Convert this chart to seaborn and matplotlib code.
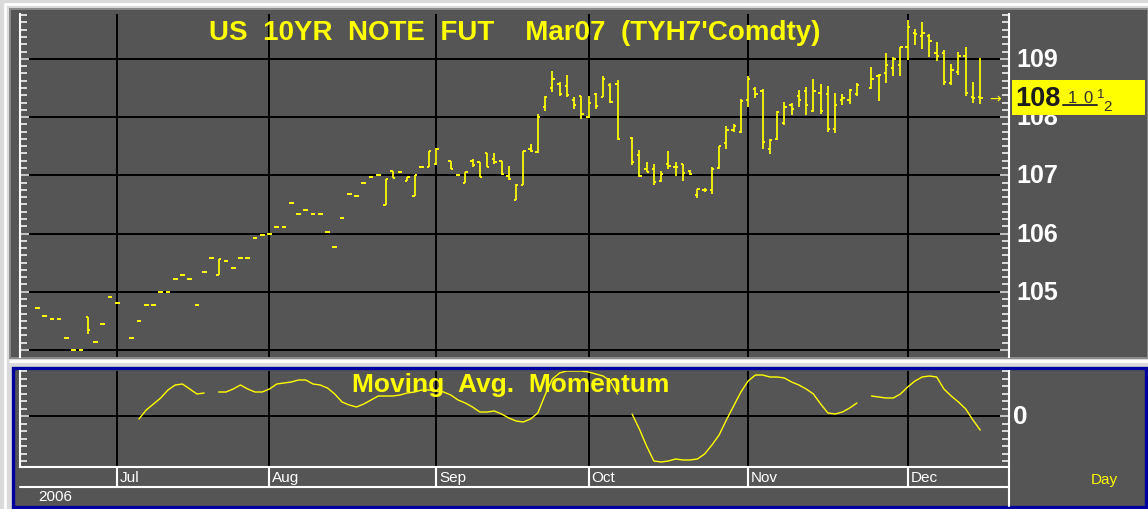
import numpy as np
import pandas as pd
import matplotlib
matplotlib.use("Agg")
import matplotlib.pyplot as plt
from matplotlib.patches import Rectangle
from matplotlib.ticker import MultipleLocator, FixedLocator
import seaborn as sns

sns.set_style("dark")
plt.rcParams["font.family"] = ["Liberation Sans", "DejaVu Sans"]

# ---------------------------------------------------------------- data
calendar_start = "2006-06-14"   # first weekday slot on the axis
calendar_end = "2006-12-20"     # last weekday slot on the axis
price_start = "2006-06-16"      # first slot of the OHLC arrays
momentum_start = "2006-07-06"   # first slot of the momentum array

nan = np.nan
bar_open = [
    104.72, 104.59, 104.54, 104.54, 104.21, 104.00, 104.00, 104.56, 104.13, 104.44,
    104.91, 104.81, nan, 104.21, 104.50, 104.78, 104.78, 105.00, 105.00, 105.22,
    105.28, 105.22, 104.78, 105.34, 105.58, 105.28, 105.53, 105.41, 105.58, 105.58,
    105.93, 105.97, 106.00, 106.12, 106.12, 106.53, 106.34, 106.41, 106.34, 106.34,
    106.03, 105.77, 106.26, 106.68, 106.65, 106.87, 106.97, 107.00, 106.49, 107.07,
    107.06, 106.90, 106.65, 107.15, 107.15, 107.20, nan, 107.25, 107.00, 106.86,
    107.25, 107.22, 107.38, 107.28, 107.24, 106.99, 106.58, 106.83, 107.46, 107.40,
    108.17, 108.50, 108.57, 108.53, 108.30, 108.37, 108.00, 108.40, 108.35, 108.55,
    108.56, nan, 107.64, 107.35, 107.10, 107.10, 106.90, 107.19, 107.15, 107.19,
    107.08, 106.66, 106.75, 106.75, 107.12, 107.55, 107.77, 107.75, 108.30, 108.48,
    108.45, 107.46, 107.62, 107.89, 108.20, 108.37, 108.45, 108.10, 108.42, 108.40,
    107.80, 108.30, 108.30, 108.40, nan, 108.50, 108.70, 108.75, 108.85, 108.90,
    109.20, 109.45, 109.40, 109.40, 109.10, 109.10, 108.58, 108.78, 109.05, 108.35, 108.35,
]
bar_high = [
    104.72, 104.59, 104.54, 104.54, 104.21, 104.00, 104.00, 104.56, 104.13, 104.44,
    104.91, 104.81, nan, 104.21, 104.50, 104.78, 104.78, 105.00, 105.00, 105.22,
    105.28, 105.22, 104.78, 105.34, 105.58, 105.57, 105.53, 105.41, 105.58, 105.58,
    105.93, 105.97, 106.00, 106.12, 106.12, 106.53, 106.34, 106.41, 106.34, 106.34,
    106.03, 105.77, 106.26, 106.68, 106.65, 106.87, 106.97, 107.00, 106.94, 107.07,
    107.06, 106.97, 107.00, 107.15, 107.41, 107.47, nan, 107.25, 107.00, 107.05,
    107.28, 107.22, 107.38, 107.38, 107.25, 107.16, 106.85, 107.41, 107.53, 108.05,
    108.37, 108.79, 108.60, 108.73, 108.34, 108.37, 108.37, 108.41, 108.70, 108.58,
    108.64, nan, 107.66, 107.44, 107.22, 107.20, 107.07, 107.41, 107.22, 107.20,
    107.09, 106.77, 106.78, 107.15, 107.51, 107.85, 107.88, 108.31, 108.70, 108.51,
    108.48, 107.63, 108.10, 108.26, 108.24, 108.47, 108.51, 108.66, 108.56, 108.54,
    108.41, 108.40, 108.48, 108.58, nan, 108.86, 108.74, 109.10, 109.04, 109.21,
    109.66, 109.52, 109.63, 109.42, 109.29, 109.15, 108.91, 109.12, 109.21, 108.60, 109.02,
]
bar_low = [
    104.72, 104.59, 104.54, 104.54, 104.21, 104.00, 104.00, 104.28, 104.13, 104.44,
    104.91, 104.81, nan, 104.21, 104.50, 104.78, 104.78, 105.00, 105.00, 105.22,
    105.28, 105.22, 104.78, 105.34, 105.58, 105.28, 105.53, 105.41, 105.58, 105.58,
    105.93, 105.97, 106.00, 106.12, 106.12, 106.53, 106.34, 106.41, 106.34, 106.34,
    106.03, 105.77, 106.26, 106.68, 106.65, 106.87, 106.97, 107.00, 106.49, 106.96,
    107.06, 106.90, 106.65, 107.15, 107.15, 107.18, nan, 107.11, 107.00, 106.86,
    107.14, 106.97, 107.15, 107.20, 107.00, 106.92, 106.58, 106.83, 107.40, 107.38,
    108.11, 108.43, 108.37, 108.34, 108.14, 107.96, 107.99, 108.14, 108.34, 108.24,
    107.61, nan, 107.18, 106.97, 107.05, 106.83, 106.88, 107.11, 106.98, 106.90,
    107.00, 106.61, 106.72, 106.68, 107.11, 107.45, 107.74, 107.73, 108.17, 108.32,
    107.45, 107.37, 107.61, 107.87, 108.03, 108.17, 108.03, 108.08, 108.06, 107.74,
    107.72, 108.20, 108.22, 108.37, nan, 108.48, 108.27, 108.58, 108.71, 108.71,
    108.98, 109.23, 109.17, 109.04, 108.97, 108.55, 108.55, 108.73, 108.37, 108.24, 108.22,
]
bar_close = [
    104.72, 104.59, 104.54, 104.54, 104.21, 104.00, 104.00, 104.35, 104.13, 104.44,
    104.91, 104.81, nan, 104.21, 104.50, 104.78, 104.78, 105.00, 105.00, 105.22,
    105.28, 105.22, 104.78, 105.34, 105.58, 105.57, 105.53, 105.41, 105.58, 105.58,
    105.93, 105.97, 106.00, 106.12, 106.12, 106.53, 106.34, 106.41, 106.34, 106.34,
    106.03, 105.77, 106.26, 106.68, 106.65, 106.87, 106.97, 107.00, 106.94, 106.96,
    107.06, 106.97, 107.00, 107.15, 107.41, 107.45, nan, 107.11, 107.00, 107.05,
    107.17, 106.97, 107.15, 107.22, 107.02, 106.93, 106.83, 107.41, 107.41, 108.00,
    108.35, 108.65, 108.40, 108.38, 108.20, 108.06, 108.24, 108.19, 108.66, 108.26,
    107.63, nan, 107.23, 106.98, 107.06, 106.88, 107.02, 107.16, 107.15, 107.04,
    107.02, 106.76, 106.75, 107.10, 107.50, 107.77, 107.85, 108.28, 108.65, 108.40,
    107.57, 107.60, 108.08, 108.17, 108.14, 108.30, 108.20, 108.45, 108.10, 107.80,
    108.20, 108.32, 108.46, 108.55, nan, 108.65, 108.72, 108.90, 109.00, 109.20,
    109.55, 109.43, 109.45, 109.30, 109.05, 108.60, 108.80, 109.05, 108.42, 108.32, 108.328125,
]

momentum = [
    -0.3, 0.6, 1.2, 1.8, 2.6, 3.1, 3.2, 2.7, 2.2, 2.3,
    nan, 2.4, 2.4, 2.7, 3.1, 2.7, 2.4, 2.4, 2.7, 3.2,
    3.3, 3.4, 3.6, 3.6, 3.2, 3.1, 2.8, 2.2, 1.4, 1.1,
    0.9, 1.2, 1.6, 2.0, 2.0, 2.0, 2.1, 2.3, 2.4, 2.6,
    2.6, 2.5, 2.4, 2.1, 1.6, 1.3, 0.9, 0.4, 0.4, 0.5,
    0.2, -0.2, -0.5, -0.6, -0.3, 0.3, 2.1, 3.7, 4.3, 4.5,
    4.5, 4.5, 4.4, 4.2, 4.0, 3.5, 2.2, nan, 0.2, -1.3,
    -3.0, -4.5, -4.6, -4.5, -4.3, -4.4, -4.4, -4.3, -3.8, -2.9,
    -1.9, -0.4, 1.0, 2.4, 3.5, 4.1, 4.1, 3.9, 3.9, 3.8,
    3.4, 3.1, 2.7, 2.2, 1.2, 0.3, 0.2, 0.4, 0.8, 1.3,
    nan, 2.0, 1.9, 1.8, 1.8, 2.2, 2.9, 3.5, 3.9, 4.0,
    3.9, 2.7, 2.0, 1.4, 0.7, -0.4, -1.4,
]

month_names = ["Jul", "Aug", "Sep", "Oct", "Nov", "Dec"]
price_levels = [105, 106, 107, 108, 109]
title = "US  10YR  NOTE  FUT    Mar07  (TYH7'Comdty)"
study_name = "Moving  Avg.  Momentum"
year_label = "2006"
period_label = "Day"

# ---------------------------------------------------------------- styling
PANEL = "#555555"
YELLOW = "#ffff00"
NAVY = "#0000a0"
W, H = 1148, 510


def rect(left, top, right, bottom):
    return [left / W, 1 - bottom / H, (right - left) / W, (bottom - top) / H]


def ax_x(pixel):
    return (pixel - 20) / 988.5


# weekday slots (holidays keep an empty slot)
slots = pd.bdate_range(calendar_start, calendar_end)
slot_pos = pd.Series(np.arange(len(slots)), index=slots)
px = slot_pos[pd.Timestamp(price_start)] + np.arange(len(bar_open))
mx = slot_pos[pd.Timestamp(momentum_start)] + np.arange(len(momentum))
month_x = [slot_pos[slots[slots.month == m][0]] for m in range(7, 13)]
x_lo, x_hi = -0.4, len(slots) - 0.1

fig = plt.figure(figsize=(W / 100, H / 100), dpi=100, facecolor="#dadada")
bg = fig.add_axes([0, 0, 1, 1], zorder=0)
bg.set_xlim(0, W)
bg.set_ylim(H, 0)
bg.axis("off")
bg.plot([5, 5], [5, H], color="white", lw=2)
bg.plot([5, W], [5, 5], color="white", lw=2)
bg.add_patch(Rectangle((10, 10), W - 10, 349, fc=PANEL, ec="#8a8a8a", lw=1.4))
bg.plot([10, W], [362, 362], color="white", lw=2)
bg.add_patch(Rectangle((13, 368.5), W - 15, 139, fc=PANEL, ec=NAVY, lw=2.4))

ax1 = fig.add_axes(rect(20, 15, 1008.5, 358), zorder=2)
ax2 = fig.add_axes(rect(20, 372, 1008.5, 467.5), zorder=2)


def style(ax):
    ax.set_facecolor(PANEL)
    ax.spines["top"].set_visible(False)
    ax.spines["bottom"].set_visible(False)
    for s in ("left", "right"):
        ax.spines[s].set_color("white")
        ax.spines[s].set_linewidth(1.5)
    ax.set_xlim(x_lo, x_hi)
    ax.xaxis.set_major_locator(FixedLocator(month_x))
    ax.tick_params(axis="x", length=0, labelbottom=False)
    ax.tick_params(axis="y", which="both", direction="in", left=True, right=True,
                   colors="white", labelleft=False, labelright=False, width=1.1)
    ax.tick_params(axis="y", which="major", length=6.5)
    ax.tick_params(axis="y", which="minor", length=5)
    ax.grid(True, which="major", color="black", lw=1.4)
    ax.grid(False, which="minor")
    ax.set_xlabel("")
    ax.set_ylabel("")


# ---------------------------------------------------------------- price bars
o = np.array(bar_open)
h = np.array(bar_high)
lo = np.array(bar_low)
c = np.array(bar_close)
ok = ~np.isnan(o)
ax1.vlines(px[ok], lo[ok], h[ok], colors=YELLOW, lw=1.25, zorder=3)
ax1.hlines(o[ok], px[ok] - 0.32, px[ok], colors=YELLOW, lw=1.4, zorder=3)
ax1.hlines(c[ok], px[ok], px[ok] + 0.32, colors=YELLOW, lw=1.4, zorder=3)

style(ax1)
ax1.set_ylim(103.88, 109.77)
ax1.yaxis.set_major_locator(MultipleLocator(1))
ax1.yaxis.set_minor_locator(MultipleLocator(0.125))

ty = ax1.get_yaxis_transform()
for lvl in price_levels:
    ax1.text(ax_x(1016), lvl, str(lvl), transform=ty, ha="left", va="center",
             fontsize=18, weight="bold", color="white", clip_on=False)

ax1.text(0.5, (358 - 33) / 343, title, transform=ax1.transAxes, ha="center",
         va="center", fontsize=20, weight="bold", color=YELLOW, zorder=4)

# last-price flag: whole points and 32nds
last = c[ok][-1]
whole = int(last)
in32 = (last - whole) * 32
ticks32 = int(in32)
ax1.text(ax_x(995), last, "\u2192", transform=ty, ha="center", va="center",
         fontsize=10, color=YELLOW, family=["DejaVu Sans"], clip_on=False)
ax1.add_patch(Rectangle((ax_x(1012), last - 0.3), ax_x(1145) - ax_x(1012), 0.6,
                        transform=ty, fc=YELLOW, ec="none", clip_on=False, zorder=5))
ax1.text(ax_x(1015), last, str(whole), transform=ty, ha="left", va="center",
         fontsize=19.5, weight="bold", color="#1c1c1c", clip_on=False, zorder=6)
for k, ch in enumerate(f"{ticks32:d}"):
    ax1.text(ax_x(1072 + 15.5 * k), last, ch, transform=ty, ha="center", va="center",
             fontsize=12, color="#303030", clip_on=False, zorder=6)
ax1.plot([ax_x(1063), ax_x(1097)], [last - 0.118, last - 0.118], transform=ty,
         color="#303030", lw=1.4, clip_on=False, zorder=6)
if in32 - ticks32 == 0.5:
    ax1.text(ax_x(1101), last + 0.06, "1", transform=ty, ha="center", va="center",
             fontsize=9.5, color="#303030", clip_on=False, zorder=6)
    ax1.text(ax_x(1108), last - 0.14, "2", transform=ty, ha="center", va="center",
             fontsize=11, color="#303030", clip_on=False, zorder=6)

# ---------------------------------------------------------------- momentum study
mom = pd.DataFrame({"slot": mx, "value": momentum})
mom["segment"] = mom["value"].isna().cumsum()
mom = mom.dropna()
sns.lineplot(data=mom, x="slot", y="value", units="segment", estimator=None,
             color=YELLOW, lw=1.0, ax=ax2, legend=False, zorder=3)

style(ax2)
ax2.set_ylim(-5.05, 4.5)
ax2.yaxis.set_major_locator(FixedLocator([0]))
ax2.yaxis.set_minor_locator(MultipleLocator(0.75))
ax2.spines["bottom"].set_visible(True)
ax2.spines["bottom"].set_color("white")
ax2.spines["bottom"].set_linewidth(1.5)

ax2.text(ax_x(510.5), (467.5 - 385) / 95.5, study_name, transform=ax2.transAxes,
         ha="center", va="center", fontsize=19, weight="bold", color=YELLOW, zorder=5)
ax2.text(ax_x(1013), 0, "0", transform=ax2.get_yaxis_transform(), ha="left",
         va="center", fontsize=19, weight="bold", color="white", clip_on=False)

# date row under the study
row_h = 20.5 / 95.5
xt = ax2.get_xaxis_transform()
ax2.vlines(month_x, -row_h, 0, transform=xt, colors="white", lw=1.5, clip_on=False)
ax2.plot([0, 1], [-row_h, -row_h], transform=ax2.transAxes, color="white", lw=1.5,
         clip_on=False)
ax2.plot([1, 1], [0, -(507 - 467.5) / 95.5], transform=ax2.transAxes, color="white",
         lw=1.5, clip_on=False)
for m, name in zip(month_x, month_names):
    ax2.text(m + 0.4, -row_h / 2, name, transform=xt, ha="left", va="center",
             fontsize=11, color="white", clip_on=False)

bg.text(38, 497, year_label, ha="left", va="center", fontsize=11, color="white")
bg.text(1104, 480, period_label, ha="center", va="center", fontsize=11, color=YELLOW)

fig.savefig("out.png", dpi=100, facecolor=fig.get_facecolor())
